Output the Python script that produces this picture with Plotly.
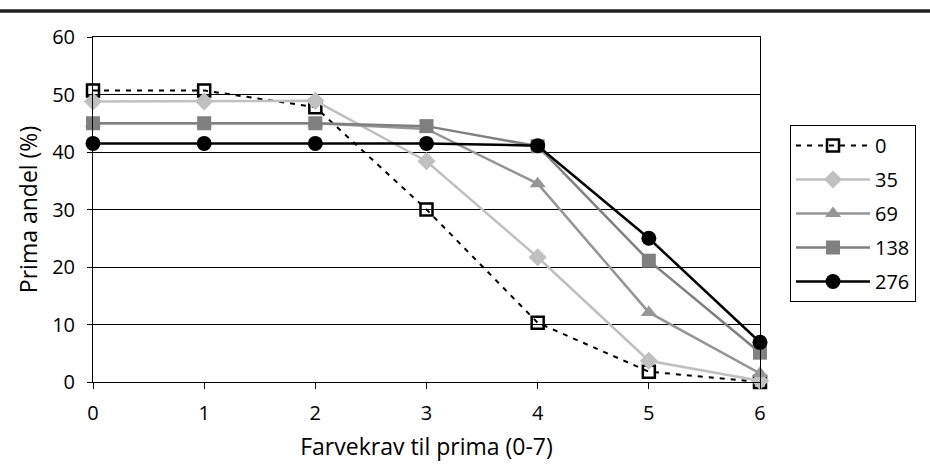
import plotly.graph_objects as go

# Farvekrav til prima (0-7) on the x axis
farvekrav = [0, 1, 2, 3, 4, 5, 6]

# Prima andel (%) per dose series
serie_navne = ["0", "35", "69", "138", "276"]
andel_0 = [50.7, 50.7, 47.8, 30.0, 10.3, 1.8, 0.0]
andel_35 = [48.8, 48.8, 48.9, 38.4, 21.7, 3.7, 0.2]
andel_69 = [45.0, 45.0, 45.0, 44.0, 34.5, 12.1, 1.5]
andel_138 = [45.0, 45.0, 45.0, 44.5, 41.0, 21.1, 5.1]
andel_276 = [41.5, 41.5, 41.5, 41.5, 41.1, 25.0, 6.9]

y_ticks = [0, 10, 20, 30, 40, 50, 60]

FONT = "Open Sans, Noto Sans, DejaVu Sans, sans-serif"

styles = [
    dict(line=dict(color="#000000", width=2, dash="5px,6px"),
         marker=dict(symbol="square-open", size=12, color="#000000",
                     line=dict(color="#000000", width=2.5))),
    dict(line=dict(color="#c0c0c0", width=2.5),
         marker=dict(symbol="diamond", size=14, color="#c0c0c0")),
    dict(line=dict(color="#969696", width=2.5),
         marker=dict(symbol="triangle-up", size=14, color="#969696")),
    dict(line=dict(color="#808080", width=2.5),
         marker=dict(symbol="square", size=14, color="#808080")),
    dict(line=dict(color="#000000", width=2.5),
         marker=dict(symbol="circle", size=15, color="#000000")),
]

series = [andel_0, andel_35, andel_69, andel_138, andel_276]

fig = go.Figure()
for navn, vals, st in zip(serie_navne, series, styles):
    fig.add_trace(go.Scatter(
        x=farvekrav, y=vals, name=navn, legendgroup=navn,
        mode="lines+markers",
        line=st["line"], marker=st["marker"], cliponaxis=False,
    ))

W, H = 930, 471
L, R, T, B = 93, 170, 37, 89
pw, ph = W - L - R, H - T - B

fig.update_layout(
    width=W, height=H,
    margin=dict(l=L, r=R, t=T, b=B, pad=0, autoexpand=False),
    paper_bgcolor="white", plot_bgcolor="white",
    font=dict(family=FONT, size=19, color="#000000"),
    showlegend=True,
    legend=dict(
        x=(790 - L) / pw, y=1 - (125 - T) / ph,
        xanchor="left", yanchor="top",
        bordercolor="#000000", borderwidth=1,
        bgcolor="white", font=dict(size=20, family=FONT),
        itemwidth=74, tracegroupgap=5,
    ),
    xaxis=dict(
        range=[0, 6], tickvals=farvekrav, ticktext=[str(v) for v in farvekrav],
        showgrid=False, zeroline=False,
        showline=True, linecolor="#000000", linewidth=1, mirror=True,
        ticks="outside", ticklen=6, tickcolor="#000000",
        ticklabelstandoff=7,
        tickfont=dict(size=20, family=FONT),
        title=dict(text="Farvekrav til prima (0-7)", font=dict(size=23, family=FONT), standoff=13),
    ),
    yaxis=dict(
        range=[0, 60], tickvals=y_ticks,
        showgrid=True, gridcolor="#000000", gridwidth=1, zeroline=False,
        showline=True, linecolor="#000000", linewidth=1, mirror=True,
        ticks="outside", ticklen=5, tickcolor="#000000",
        ticklabelstandoff=8,
        tickfont=dict(size=20, family=FONT),
        title=dict(text="Prima andel (%)", font=dict(size=23, family=FONT), standoff=8),
    ),
)

# Heavy rule across the top of the page
fig.add_shape(
    type="line", xref="paper", yref="paper",
    x0=-L / pw, x1=1 + R / pw,
    y0=1 + (T - 11) / ph, y1=1 + (T - 11) / ph,
    line=dict(color="#222222", width=3.5),
)

fig.write_html("out.html")
